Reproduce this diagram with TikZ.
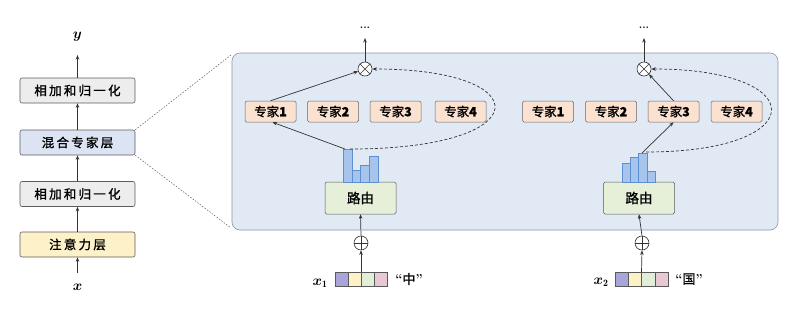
\documentclass[tikz,border=0pt]{standalone}
\usepackage{fontspec}
\usepackage{bm}
\newfontfamily\cjk[LetterSpace=18,FakeBold=1.2]{Noto Sans CJK SC}
\newfontfamily\cjkn[FakeBold=1.2]{Noto Sans CJK SC}
\usetikzlibrary{arrows.meta}
\definecolor{grayfill}{HTML}{EDEDED}
\definecolor{mixfill}{HTML}{DCE3F3}
\definecolor{attfill}{HTML}{FCF1C8}
\definecolor{panelfill}{HTML}{E1E9F5}
\definecolor{panelline}{HTML}{8C96A5}
\definecolor{expfill}{HTML}{FBE2D0}
\definecolor{routefill}{HTML}{E6F0D9}
\definecolor{barfill}{HTML}{A7C4EC}
\definecolor{barline}{HTML}{5F8FD3}
\definecolor{cpurple}{HTML}{A9A5DA}
\definecolor{cyellow}{HTML}{FDF2C5}
\definecolor{cgreen}{HTML}{E2EFD8}
\definecolor{cpink}{HTML}{E8C8D2}
\definecolor{ink}{HTML}{333333}
\tikzset{
  layerbox/.style={draw=ink!80, line width=0.6pt, rounded corners=2pt, minimum width=115pt, minimum height=25pt, inner sep=0pt, font=\cjk\fontsize{12.5}{12.5}\selectfont},
  expbox/.style={draw=gray!80!black, line width=0.5pt, rounded corners=1.5pt, fill=expfill, minimum width=51pt, minimum height=21pt, inner sep=0pt, font=\cjkn\fontsize{12.5}{12.5}\selectfont},
  routebox/.style={draw=gray!70!black, line width=0.5pt, rounded corners=1.5pt, fill=routefill, minimum width=71pt, minimum height=32pt, inner sep=0pt, font=\cjkn\fontsize{13.5}{13.5}\selectfont},
  opcircle/.style={circle, draw=ink, line width=0.6pt, fill=white, minimum size=14pt, inner sep=0pt},
  bar/.style={draw=barline, line width=0.5pt, fill=barfill},
  arr/.style={draw=ink, line width=0.7pt, -{Stealth[length=4.5pt,width=3.5pt]}},
  darr/.style={draw=ink, line width=0.7pt, dashed, dash pattern=on 3pt off 2pt, -{Stealth[length=4.5pt,width=3.5pt]}},
  zoomline/.style={draw=ink!80, line width=0.5pt, dash pattern=on 1.5pt off 1.5pt},
  cell/.style={draw=gray!70!black, line width=0.4pt},
  mlabel/.style={font=\fontsize{14}{14}\selectfont, inner sep=0pt},
  dots/.style={font=\bfseries\fontsize{11}{11}\selectfont, inner sep=0pt},
}
\begin{document}
\begin{tikzpicture}[x=1pt,y=-1pt]
\useasboundingbox (0,0) rectangle (811,308);

% ---------- left column ----------
\node[layerbox, fill=grayfill] (an2) at (77.5,90.5) {相加和归一化};
\node[layerbox, fill=mixfill] (moe) at (77.5,142.5) {混合专家层};
\node[layerbox, fill=grayfill] (an1) at (77.5,194) {相加和归一化};
\node[layerbox, fill=attfill] (att) at (77.5,244.5) {注意力层};
\node[mlabel] (yl) at (77.5,37) {$\bm{y}$};
\node[mlabel] (xl) at (77.5,287) {$\bm{x}$};
\coordinate (xs) at (77.5,273);
\coordinate (ye) at (77.5,55);
\draw[arr] (xs) -- (att.south);
\draw[arr] (att.north) -- (an1.south);
\draw[arr] (an1.north) -- (moe.south);
\draw[arr] (moe.north) -- (an2.south);
\draw[arr] (an2.north) -- (ye);

% ---------- panel ----------
\node[draw=panelline, line width=0.6pt, fill=panelfill, rounded corners=8pt, minimum width=546pt, minimum height=177pt, inner sep=0pt] (panel) at (505,141.5) {};
\coordinate (zt) at (231,55);
\coordinate (zb) at (231,228);
\draw[zoomline] (moe.north east) -- (zt);
\draw[zoomline] (moe.south east) -- (zb);

% ---------- module 1 ----------
\node[expbox] (a1) at (270.5,111.5) {专家\textbf{1}};
\node[expbox] (a2) at (333,111.5) {专家\textbf{2}};
\node[expbox] (a3) at (395.5,111.5) {专家\textbf{3}};
\node[expbox] (a4) at (460.5,111.5) {专家\textbf{4}};
\node[routebox] (r1) at (360.5,198) {路由};
\draw[bar] (343,182) rectangle (351.75,149);
\draw[bar] (351.75,182) rectangle (360.5,170);
\draw[bar] (360.5,182) rectangle (369.25,165);
\draw[bar] (369.25,182) rectangle (378,156);
\coordinate (b1) at (345,149);
\coordinate (b1d) at (350,149);
\node[opcircle] (m1) at (365,69) {};
\draw[ink, line width=0.6pt] (m1.north east) -- (m1.south west) (m1.north west) -- (m1.south east);
\node[dots] (d1) at (365,28) {...};
\coordinate (e1) at (365,38);
\draw[arr] (b1) -- ([xshift=2pt]a1.south);
\draw[arr] (a1.north) -- (m1);
\draw[darr] (b1d) .. controls (539,149) and (539,69) .. (m1.east);
\draw[arr] (m1.north) -- (e1);
\node[opcircle] (p1) at (361,243) {};
\draw[ink, line width=0.6pt] (p1.north) -- (p1.south) (p1.west) -- (p1.east);
\draw[arr] (p1.north) -- (r1.south);
\foreach \c [count=\i from 0] in {cpurple,cyellow,cgreen,cpink}
  \draw[cell, fill=\c] (335+\i*13,272) rectangle (348+\i*13,286);
\coordinate (v1) at (361,272);
\draw[arr] (v1) -- (p1.south);
\node[mlabel] (x1) at (320,283) {$\bm{x}_{\mathbf{1}}$};
\node[inner sep=0pt, font=\fontsize{13}{13}\selectfont] (t1) at (409,279) {\textbf{``}{\cjkn 中}\textbf{''}};

% ---------- module 2 ----------
\node[expbox] (c1) at (548,111.5) {专家\textbf{1}};
\node[expbox] (c2) at (611,111.5) {专家\textbf{2}};
\node[expbox] (c3) at (673.5,111.5) {专家\textbf{3}};
\node[expbox] (c4) at (736.5,111.5) {专家\textbf{4}};
\node[routebox] (r2) at (639,198) {路由};
\draw[bar] (622,182) rectangle (630.25,163);
\draw[bar] (630.25,182) rectangle (638.5,157);
\draw[bar] (638.5,182) rectangle (646.75,153);
\draw[bar] (646.75,182) rectangle (655,171);
\coordinate (b2) at (642,153);
\coordinate (b2d) at (646,152);
\node[opcircle] (m2) at (644,69) {};
\draw[ink, line width=0.6pt] (m2.north east) -- (m2.south west) (m2.north west) -- (m2.south east);
\node[dots] (d2) at (644,28) {...};
\coordinate (e2) at (644,38);
\draw[arr] (b2) -- (c3.south);
\draw[arr] (c3.north) -- (m2);
\draw[darr] (b2d) .. controls (812,152) and (812,69) .. (m2.east);
\draw[arr] (m2.north) -- (e2);
\node[opcircle] (p2) at (642,243) {};
\draw[ink, line width=0.6pt] (p2.north) -- (p2.south) (p2.west) -- (p2.east);
\draw[arr] (p2.north) -- (r2.south);
\foreach \c [count=\i from 0] in {cpurple,cyellow,cgreen,cpink}
  \draw[cell, fill=\c] (615+\i*13.25,272) rectangle (628.25+\i*13.25,286);
\coordinate (v2) at (641.5,272);
\draw[arr] (v2) -- (p2.south);
\node[mlabel] (x2) at (601,282) {$\bm{x}_{\mathbf{2}}$};
\node[inner sep=0pt, font=\fontsize{13}{13}\selectfont] (t2) at (689,279) {\textbf{``}{\cjkn 国}\textbf{''}};
\end{tikzpicture}
\end{document}
